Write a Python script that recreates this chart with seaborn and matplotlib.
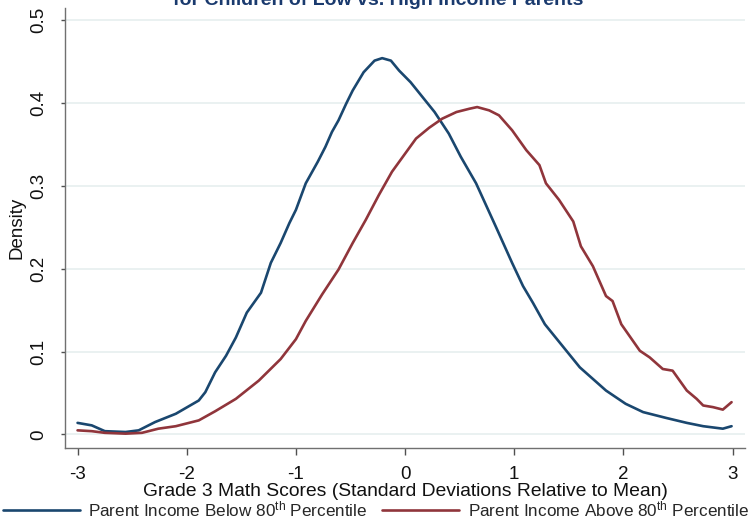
import numpy as np
import pandas as pd
import matplotlib
matplotlib.use("Agg")
import matplotlib.pyplot as plt
import seaborn as sns

# ---- data ----
blue_x = [-3.0, -2.87, -2.75, -2.56, -2.44, -2.29, -2.10, -1.89, -1.83, -1.74, -1.64, -1.55,
          -1.45, -1.32, -1.23, -1.14, -1.06, -1.0, -0.91, -0.80, -0.73, -0.67, -0.61, -0.54,
          -0.48, -0.38, -0.28, -0.21, -0.13, -0.055, 0.05, 0.16, 0.27, 0.40, 0.51, 0.65, 0.83,
          0.98, 1.08, 1.17, 1.28, 1.44, 1.60, 1.84, 2.02, 2.18, 2.39, 2.58, 2.73, 2.91, 2.99]
blue_y = [0.014, 0.011, 0.004, 0.003, 0.005, 0.015, 0.025, 0.041, 0.051, 0.075, 0.095, 0.117,
          0.147, 0.171, 0.207, 0.231, 0.255, 0.271, 0.303, 0.329, 0.347, 0.365, 0.379, 0.399,
          0.415, 0.437, 0.451, 0.454, 0.451, 0.439, 0.425, 0.407, 0.389, 0.363, 0.335, 0.303,
          0.251, 0.207, 0.179, 0.159, 0.133, 0.107, 0.081, 0.053, 0.037, 0.027, 0.020, 0.014,
          0.010, 0.007, 0.010]
red_x = [-3.0, -2.87, -2.75, -2.56, -2.41, -2.26, -2.10, -1.89, -1.74, -1.55, -1.34, -1.14,
         -1.0, -0.91, -0.76, -0.61, -0.48, -0.36, -0.24, -0.12, -0.01, 0.10, 0.22, 0.34, 0.47,
         0.59, 0.66, 0.77, 0.86, 0.98, 1.11, 1.23, 1.29, 1.41, 1.54, 1.61, 1.72, 1.84, 1.90,
         1.98, 2.15, 2.24, 2.36, 2.45, 2.58, 2.67, 2.73, 2.82, 2.91, 2.99]
red_y = [0.005, 0.004, 0.002, 0.001, 0.002, 0.007, 0.010, 0.017, 0.028, 0.043, 0.065, 0.091,
         0.115, 0.137, 0.169, 0.199, 0.231, 0.259, 0.289, 0.317, 0.337, 0.357, 0.370, 0.381,
         0.389, 0.393, 0.395, 0.391, 0.385, 0.367, 0.343, 0.325, 0.303, 0.283, 0.257, 0.227,
         0.203, 0.167, 0.161, 0.133, 0.101, 0.093, 0.079, 0.077, 0.053, 0.043, 0.035, 0.033,
         0.030, 0.039]

series_names = ["Parent Income Below 80$^{\\rm th}$ Percentile",
                "Parent Income Above 80$^{\\rm th}$ Percentile"]
x_ticks = [-3, -2, -1, 0, 1, 2, 3]
y_ticks = [0, 0.1, 0.2, 0.3, 0.4, 0.5]
y_tick_labels = ["0", "0.1", "0.2", "0.3", "0.4", "0.5"]
title_text = "for Children of Low vs. High Income Parents"
x_label = "Grade 3 Math Scores (Standard Deviations Relative to Mean)"
y_label = "Density"

df = pd.concat([
    pd.DataFrame({"x": blue_x, "y": blue_y, "group": series_names[0]}),
    pd.DataFrame({"x": red_x, "y": red_y, "group": series_names[1]}),
], ignore_index=True)

sns.set_theme(style="white")
plt.rcParams["font.family"] = ["Liberation Sans", "DejaVu Sans"]
plt.rcParams["mathtext.fontset"] = "custom"
plt.rcParams["mathtext.rm"] = "Liberation Sans"
plt.rcParams["mathtext.it"] = "Liberation Sans:italic"
plt.rcParams["mathtext.bf"] = "Liberation Sans:bold"

palette = {series_names[0]: "#1a476f", series_names[1]: "#90353b"}

fig = plt.figure(figsize=(7.5, 5.24), dpi=100)
ax = fig.add_axes([65 / 750, 1 - 448 / 524, 680 / 750, 440 / 524])

sns.lineplot(data=df, x="x", y="y", hue="group", palette=palette, ax=ax,
             linewidth=1.9, sort=False, estimator=None)

ax.set_xlim(-3.115, 3.113)
ax.set_ylim(-0.0163, 0.5145)
ax.set_xticks(x_ticks)
ax.set_xticklabels([str(t) for t in x_ticks])
ax.set_yticks(y_ticks)
ax.set_yticklabels(y_tick_labels, rotation=90, va="center")

ax.grid(axis="y", color="#e6efef", linewidth=1.2)
ax.grid(axis="x", visible=False)
ax.set_axisbelow(True)

for s in ["top", "right"]:
    ax.spines[s].set_visible(False)
for s in ["left", "bottom"]:
    ax.spines[s].set_color("#707070")
    ax.spines[s].set_linewidth(1.0)

ax.tick_params(axis="x", direction="out", length=5, width=1, color="#505050",
               pad=8, labelsize=13.5, labelcolor="#111111", bottom=True)
ax.tick_params(axis="y", direction="out", length=3, width=1, color="#505050",
               pad=10, labelsize=13.5, labelcolor="#111111", left=True)

ax.set_xlabel(x_label, fontsize=13.9, color="#111111")
ax.xaxis.set_label_coords(0.5, -44 / 440)
ax.xaxis.label.set_va("center")
ax.set_ylabel(y_label, fontsize=13.5, color="#111111")
ax.yaxis.set_label_coords(-(65 - 17) / 680, 0.5)
ax.yaxis.label.set_va("center")

sns.move_legend(ax, loc="center left", bbox_to_anchor=(3 / 750, 15 / 524),
                bbox_transform=fig.transFigure, ncol=2, frameon=False, title=None,
                fontsize=12.3, handlelength=4.5, handletextpad=0.5,
                columnspacing=0.85, borderpad=0, borderaxespad=0)
for line in ax.get_legend().get_lines():
    line.set_linewidth(1.9)

fig.text(378 / 750, 1 - 5 / 524, title_text, ha="center", va="baseline",
         fontsize=14, fontweight="bold", color="#1a3a6e")

fig.savefig("out.png", dpi=100)
